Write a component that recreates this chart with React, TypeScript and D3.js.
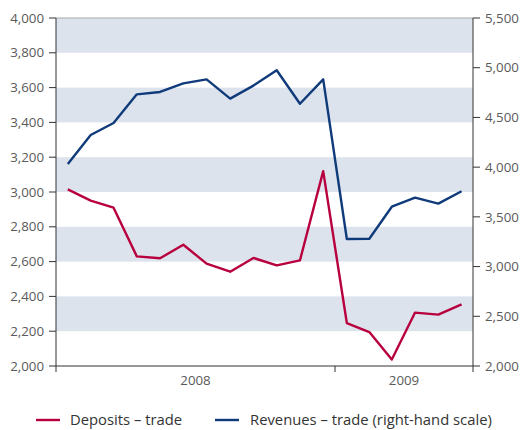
import React from "react";
import * as d3 from "d3";

const months = [
  "2008-01","2008-02","2008-03","2008-04","2008-05","2008-06",
  "2008-07","2008-08","2008-09","2008-10","2008-11","2008-12",
  "2009-01","2009-02","2009-03","2009-04","2009-05","2009-06",
];
const deposits = [3015, 2950, 2910, 2630, 2619, 2697, 2588, 2542, 2621, 2578, 2607, 3120, 2247, 2195, 2037, 2307, 2295, 2354];
const revenues = [4032, 4323, 4444, 4732, 4756, 4843, 4883, 4689, 4820, 4974, 4638, 4883, 3277, 3280, 3602, 3693, 3633, 3757];
const leftTicks = [2000, 2200, 2400, 2600, 2800, 3000, 3200, 3400, 3600, 3800, 4000];
const rightTicks = [2000, 2500, 3000, 3500, 4000, 4500, 5000, 5500];
const yearLabels = ["2008", "2009"];
const yearBounds = ["2008-01", "2009-01", "2009-07"];
const seriesNames = ["Deposits – trade", "Revenues – trade (right-hand scale)"];

const W = 531, H = 430;
const L = 56, R = 473, T = 18, B = 366;
const RED = "#b8003f";
const BLUE = "#0f3b7a";
const TXT = "#5a5a5a";
const FONT = "'Open Sans', 'Noto Sans', sans-serif";

export default function App() {
  const parse = d3.timeParse("%Y-%m");
  const x = d3.scaleTime()
    .domain([parse("2008-01")!, parse("2009-07")!])
    .range([L, R]);
  const mid = (m: string) => {
    const d = parse(m)!;
    const n = d3.timeMonth.offset(d, 1);
    return (x(d) + x(n)) / 2;
  };
  const yL = d3.scaleLinear().domain([2000, 4000]).range([B, T]);
  const yR = d3.scaleLinear().domain([2000, 5500]).range([B, T]);

  const lineL = d3.line<number>().x((_, i) => mid(months[i])).y((v) => yL(v));
  const lineR = d3.line<number>().x((_, i) => mid(months[i])).y((v) => yR(v));

  const bands = [];
  for (let i = 0; i < leftTicks.length - 1; i++) {
    if (i % 2 === 1) bands.push([leftTicks[i], leftTicks[i + 1]]);
  }
  const fmt = d3.format(",");
  const bx = yearBounds.map((b) => x(parse(b)!));

  return (
    <svg width={W} height={H} style={{ display: "block", position: "absolute", left: 0, top: 0 }} fontFamily={FONT}>
      <rect width={W} height={H} fill="#fff" />
      {bands.map(([a, b], i) => (
        <rect key={i} x={L} y={yL(b)} width={R - L} height={yL(a) - yL(b)} fill="#dde3ed" />
      ))}
      <line x1={L} x2={R} y1={T} y2={T} stroke="#aaaaaa" strokeWidth={1} />
      {/* left axis */}
      <line x1={L} x2={L} y1={T} y2={B} stroke="#333" strokeWidth={1} />
      {leftTicks.map((t) => (
        <g key={t}>
          <line x1={L - 7} x2={L} y1={yL(t)} y2={yL(t)} stroke="#333" />
          <text x={44} y={yL(t)} dy="0.35em" textAnchor="end" fontSize={13.3} fill={TXT}>{fmt(t)}</text>
        </g>
      ))}
      {/* right axis */}
      <line x1={R} x2={R} y1={T} y2={B} stroke="#333" strokeWidth={1} />
      {rightTicks.map((t) => (
        <g key={t}>
          <line x1={R} x2={R + 7} y1={yR(t)} y2={yR(t)} stroke="#333" />
          <text x={485} y={yR(t)} dy="0.35em" textAnchor="start" fontSize={13.3} fill={TXT}>{fmt(t)}</text>
        </g>
      ))}
      {/* x axis */}
      <line x1={L} x2={R} y1={B} y2={B} stroke="#333" strokeWidth={1} />
      {bx.map((v, i) => (
        <line key={i} x1={v} x2={v} y1={B} y2={B + 6} stroke="#333" />
      ))}
      {yearLabels.map((lab, i) => (
        <text key={lab} x={(bx[i] + bx[i + 1]) / 2} y={385} textAnchor="middle" fontSize={13.3} fill={TXT}>{lab}</text>
      ))}
      <path d={lineR(revenues) || ""} fill="none" stroke={BLUE} strokeWidth={2.4} strokeLinejoin="round" />
      <path d={lineL(deposits) || ""} fill="none" stroke={RED} strokeWidth={2.4} strokeLinejoin="round" />
      {/* legend */}
      <line x1={36} x2={60} y1={420} y2={420} stroke={RED} strokeWidth={2.4} />
      <text x={70} y={420} dy="0.35em" fontSize={14.8} fill="#333">{seriesNames[0]}</text>
      <line x1={215} x2={239} y1={420} y2={420} stroke={BLUE} strokeWidth={2.4} />
      <text x={250} y={420} dy="0.35em" fontSize={14.8} fill="#333">{seriesNames[1]}</text>
    </svg>
  );
}
